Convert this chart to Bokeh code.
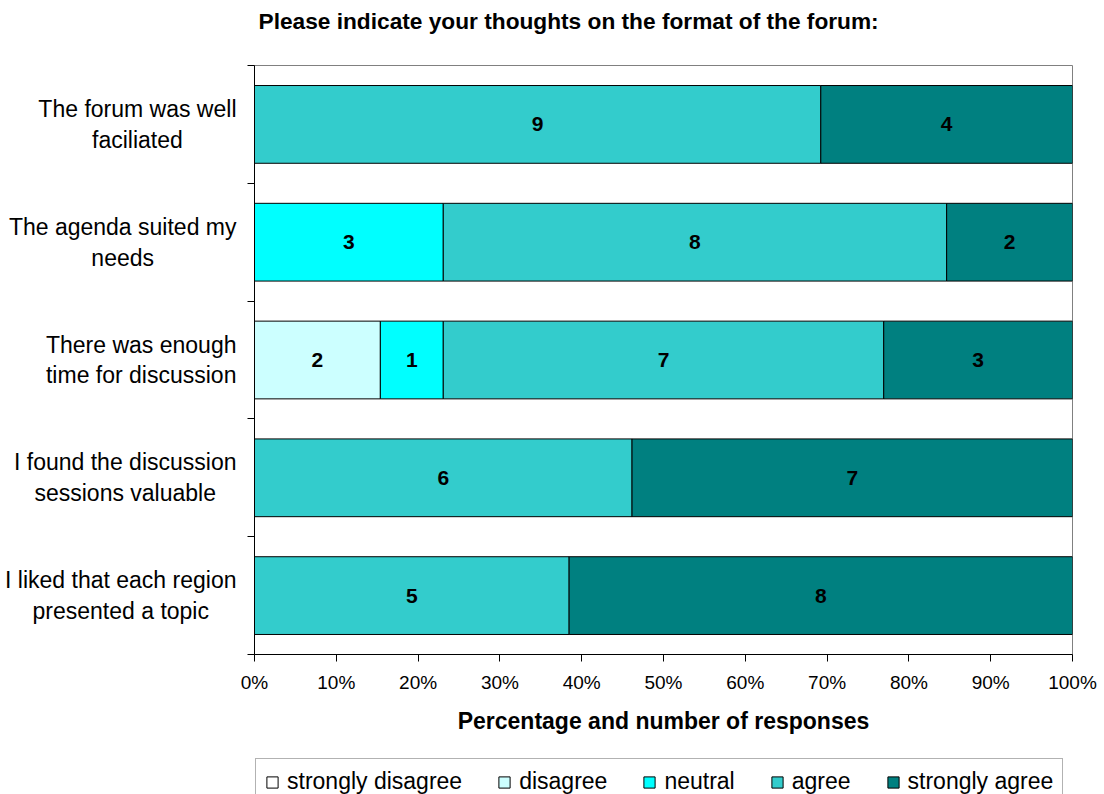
import glob
from bokeh.plotting import figure
from bokeh.layouts import column, row
from bokeh.models import (ColumnDataSource, Range1d, FixedTicker, NumeralTickFormatter,
                          Legend, LegendItem)
from bokeh.core.properties import value
from bokeh.embed import file_html
from bokeh.resources import INLINE

FONT = "Liberation Sans"

title_text = "Please indicate your thoughts on the format of the forum:"
x_title = "Percentage and number of responses"

statements = [
    "The forum was well\nfaciliated",
    "The agenda suited my\nneeds",
    "There was enough\ntime for discussion",
    "I found the discussion\nsessions valuable",
    "I liked that each region\npresented a topic",
]
levels = ["strongly disagree", "disagree", "neutral", "agree", "strongly agree"]

# number of responses per statement
strongly_disagree = [0, 0, 0, 0, 0]
disagree = [0, 0, 2, 0, 0]
neutral = [0, 3, 1, 0, 0]
agree = [9, 8, 7, 6, 5]
strongly_agree = [4, 2, 3, 7, 8]

colors = ["#FFFFFF", "#CCFFFF", "#00FFFF", "#33CCCC", "#008080"]
x_ticks = [0.0, 0.1, 0.2, 0.3, 0.4, 0.5, 0.6, 0.7, 0.8, 0.9, 1.0]

counts = [strongly_disagree, disagree, neutral, agree, strongly_agree]
keys = ["sd", "d", "n", "a", "sa"]
n = len(statements)
totals = [sum(c[i] for c in counts) for i in range(n)]
ypos = [n - i - 0.5 for i in range(n)]

W, H = 1104, 794
TOP, BOTTOM_PANEL, LEGEND_H = 65, 100, 40
LABEL_W, AXIS_PAD, RIGHT_PAD = 240, 14, 32
LABEL_SIZE = 23


def text_width(s, size):
    """Width of a line of text in the label font, used to centre wrapped labels."""
    try:
        from PIL import ImageFont
        paths = glob.glob("/usr/share/fonts/**/LiberationSans-Regular.ttf", recursive=True)
        if paths:
            return ImageFont.truetype(paths[0], size).getlength(s)
    except Exception:
        pass
    return 0.5 * size * len(s)


def blank(fig):
    fig.xgrid.visible = False
    fig.ygrid.visible = False
    fig.outline_line_color = None
    fig.background_fill_color = "white"
    fig.border_fill_color = "white"
    fig.title.visible = False
    return fig


# ---- title strip ----
p_title = blank(figure(width=W, height=TOP, x_range=Range1d(0, W), y_range=Range1d(0, TOP),
                       x_axis_location=None, y_axis_location=None, min_border=0,
                       output_backend="svg", toolbar_location=None))
p_title.text(x=[258], y=[TOP - 20], text=[title_text], text_font=value(FONT),
             text_font_style="bold", text_font_size="22.7px", text_align="left",
             text_baseline="middle", text_color="black")

# ---- main bar chart ----
data = {"y": ypos}
for k, c in zip(keys, counts):
    data[k] = [c[i] / totals[i] for i in range(n)]
src = ColumnDataSource(data)

main_h = H - TOP - LEGEND_H
p = blank(figure(width=W - LABEL_W, height=main_h, x_range=Range1d(0, 1), y_range=Range1d(0, n),
                 output_backend="svg", toolbar_location=None,
                 min_border_left=AXIS_PAD, min_border_right=RIGHT_PAD,
                 min_border_top=0, min_border_bottom=BOTTOM_PANEL))
p.outline_line_color = "#808080"
p.outline_line_width = 1

renderers = p.hbar_stack(keys, y="y", height=0.66, source=src,
                         fill_color=colors, line_color="black", line_width=1)

# value labels centred in each segment
lx, ly, lt = [], [], []
for i in range(n):
    left = 0.0
    for c in counts:
        frac = c[i] / totals[i]
        if c[i] > 0:
            lx.append(left + frac / 2)
            ly.append(ypos[i])
            lt.append(str(c[i]))
        left += frac
p.text(x=lx, y=ly, text=lt, text_font=value(FONT), text_font_style="bold",
       text_font_size="21px", text_align="center", text_baseline="middle", text_color="black")

xa = p.xaxis[0]
xa.ticker = FixedTicker(ticks=x_ticks, minor_ticks=[])
xa.formatter = NumeralTickFormatter(format="0%")
xa.major_tick_in = 0
xa.major_tick_out = 7
xa.minor_tick_line_color = None
xa.axis_line_color = "black"
xa.major_tick_line_color = "black"
xa.major_label_text_font = FONT
xa.major_label_text_font_size = "19px"
xa.major_label_text_color = "black"
xa.major_label_standoff = 10
xa.axis_label = x_title
xa.axis_label_text_font = FONT
xa.axis_label_text_font_style = "bold"
xa.axis_label_text_font_size = "23px"
xa.axis_label_text_color = "black"
xa.axis_label_standoff = 12

# y axis: only the boundary ticks between statements
ya = p.yaxis[0]
ya.ticker = FixedTicker(ticks=[], minor_ticks=list(range(n + 1)))
ya.major_tick_in = 0
ya.major_tick_out = 0
ya.major_label_standoff = 0
ya.minor_tick_in = 0
ya.minor_tick_out = 7
ya.minor_tick_line_color = "black"
ya.axis_line_color = "black"

# ---- statement labels, lines centred within each block ----
p_lab = blank(figure(width=LABEL_W, height=main_h, x_range=Range1d(0, LABEL_W), y_range=p.y_range,
                     x_axis_location=None, y_axis_location=None,
                     min_border_left=0, min_border_right=0, min_border_top=0,
                     min_border_bottom=BOTTOM_PANEL, output_backend="svg", toolbar_location=None))
right_edge = 236
lab_x = [right_edge - max(text_width(line, LABEL_SIZE) for line in s.split("\n")) / 2
         for s in statements]
p_lab.text(x=lab_x, y=ypos, text=statements, text_font=value(FONT),
           text_font_size=f"{LABEL_SIZE}px", text_align="center", text_baseline="middle",
           text_color="black", text_line_height=1.18)

# ---- legend strip ----
p_leg = blank(figure(width=W, height=LEGEND_H, x_range=Range1d(0, W), y_range=Range1d(0, LEGEND_H),
                     x_axis_location=None, y_axis_location=None, min_border=0,
                     output_backend="svg", toolbar_location=None))
# swatch renderers sit outside the visible range; only their legend squares show
leg_renderers = [p_leg.hbar(y=[-100], left=[0], right=[1], height=1, fill_color=c, line_color="black")
                 for c in colors]
legend = Legend(items=[LegendItem(label=lab, renderers=[r]) for lab, r in zip(levels, leg_renderers)],
                orientation="horizontal", location=(255, -11))
legend.label_text_font = FONT
legend.label_text_font_size = "23px"
legend.label_text_color = "black"
legend.glyph_width = 14
legend.glyph_height = 14
legend.label_standoff = 8
legend.spacing = 35
legend.padding = 9
legend.margin = 0
legend.border_line_color = "#666666"
legend.border_line_width = 1
legend.background_fill_color = "white"
legend.background_fill_alpha = 1
p_leg.add_layout(legend, "center")

layout = column(p_title, row(p_lab, p), p_leg)
open("out.html", "w").write(file_html(layout, INLINE))
